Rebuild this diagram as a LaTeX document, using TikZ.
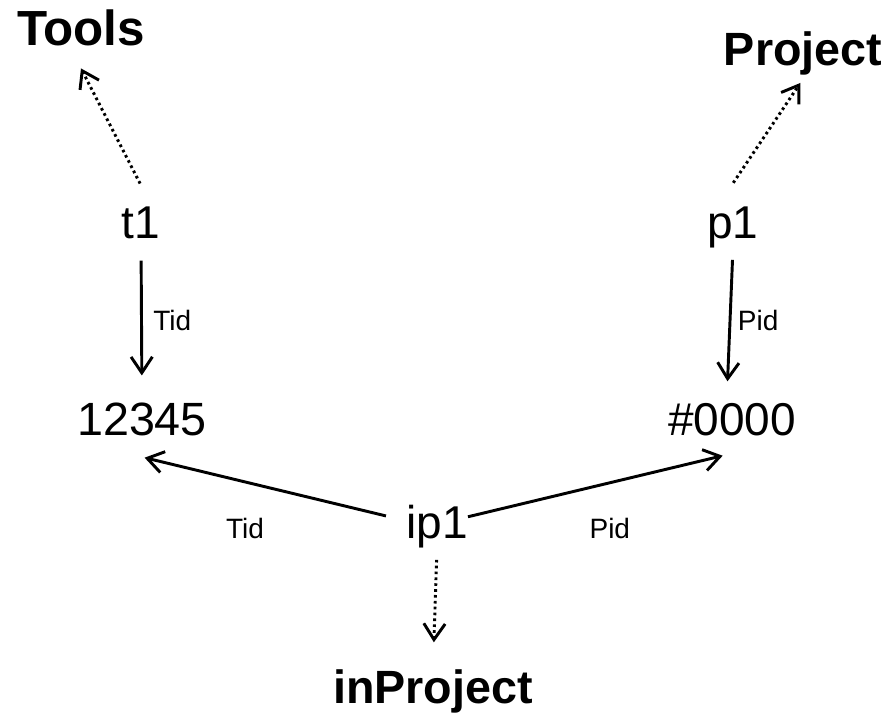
\documentclass[tikz,border=0pt]{standalone}
\usepackage{fontspec}
\setmainfont{Liberation Sans}
\usetikzlibrary{arrows.meta}

\begin{document}
\begin{tikzpicture}[x=0.75pt, y=-0.75pt,
  val/.style={anchor=base, inner sep=0pt, font=\fontsize{34.5}{40}\selectfont},
  rel/.style={anchor=base, inner sep=0pt, font=\fontsize{35}{42}\selectfont\bfseries},
  key/.style={font=\fontsize{21}{25}\selectfont},
  ref/.style={-{Straight Barb[length=12pt, width=16pt]}, line width=2.2pt},
  inst/.style={-{Straight Barb[length=12pt, width=16pt, line width=2.2pt]}, line width=2.2pt, dash pattern=on 2pt off 2.4pt}]
  \useasboundingbox (0,0) rectangle (890,714);

  % relations
  \node[rel, font=\fontsize{37}{44}\selectfont\bfseries] (tools) at (81, 45) {Tools};
  \node[rel] (project) at (803, 65) {Project};
  \node[rel] (inproject) at (433, 703) {inProject};

  % tuples and values
  \node[val] (t1) at (141, 238) {t1};
  \node[val] (p1) at (733, 238) {p1};
  \node[val, font=\fontsize{35}{40}\selectfont] (n12345) at (142, 435) {12345};
  \node[val] (n0000) at (732, 435) {\#0000};
  \node[val] (ip1) at (437, 538) {ip1};

  % instance of
  \draw[inst, shorten <=19pt] ([xshift=8pt]t1.north) -- ([yshift=-17pt]tools.south);
  \draw[inst, shorten <=21pt] ([xshift=-11.5pt]p1.north) -- ([xshift=-2pt, yshift=-6pt]project.south);
  \draw[inst, shorten <=9pt, shorten >=20pt] (ip1.south) -- (inproject.north);

  % attributes
  \draw[ref, shorten <=16.5pt, shorten >=20pt] (t1.south) -- node[key, right=4.5pt] {Tid} (n12345.north);
  \draw[ref, shorten <=9pt, shorten >=16pt] (p1.south) -- node[key, pos=0.47, right=1.5pt] {Pid} ([xshift=-4pt]n0000.north);
  \draw[ref, shorten <=15.5pt, shorten >=2pt] ([yshift=4pt]ip1.west) -- node[key, pos=0.61, below=23pt] {Tid} ([yshift=-16pt]n12345.south);
  \draw[ref] ([yshift=7pt]ip1.east) -- node[key, pos=0.557, below=22.5pt] {Pid} ([xshift=-7pt, yshift=-15pt]n0000.south);
\end{tikzpicture}
\end{document}
